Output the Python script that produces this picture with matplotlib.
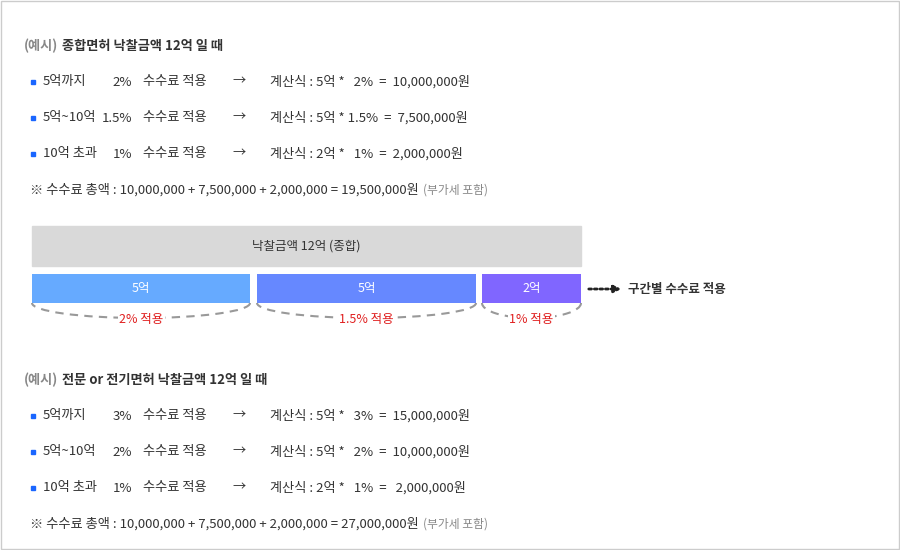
import matplotlib.pyplot as plt
from matplotlib.patches import Rectangle, Arc
import matplotlib as mpl

mpl.rcParams["font.family"] = ["Noto Sans CJK KR", "Noto Sans CJK JP", "Noto Sans CJK SC",
                               "Noto Sans CJK TC", "DejaVu Sans"]

# ---- data ----
title1 = "종합면허 낙찰금액 12억 일 때"
ranges1 = ["5억까지", "5억~10억", "10억 초과"]
rates1 = ["2%", "1.5%", "1%"]
calcs1 = ["계산식 : 5억 *   2%  =  10,000,000원",
          "계산식 : 5억 * 1.5%  =  7,500,000원",
          "계산식 : 2억 *   1%  =  2,000,000원"]
total1 = "※ 수수료 총액 : 10,000,000 + 7,500,000 + 2,000,000 = 19,500,000원"

seg_labels = ["5억", "5억", "2억"]
seg_rates = ["2% 적용", "1.5% 적용", "1% 적용"]
seg_colors = ["#66aaff", "#6688ff", "#8066ff"]

title2 = "전문 or 전기면허 낙찰금액 12억 일 때"
ranges2 = ["5억까지", "5억~10억", "10억 초과"]
rates2 = ["3%", "2%", "1%"]
calcs2 = ["계산식 : 5억 *   3%  =  15,000,000원",
          "계산식 : 5억 *   2%  =  10,000,000원",
          "계산식 : 2억 *   1%  =   2,000,000원"]
total2 = "※ 수수료 총액 : 10,000,000 + 7,500,000 + 2,000,000 = 27,000,000원"

TXT = "#333333"
GRAY = "#888888"

fig = plt.figure(figsize=(9, 5.5), dpi=100)
ax = fig.add_axes([0, 0, 1, 1])
ax.set_xlim(0, 900)
ax.set_ylim(550, 0)
ax.axis("off")
ax.add_patch(Rectangle((0.5, 0.5), 898.5, 548.5, fill=False, ec="#cccccc", lw=1))


def block(y0, title, ranges, rates, calcs, total):
    t0 = ax.text(24, y0, "(예시)", color=GRAY, fontsize=9.5, va="center", fontweight="bold")
    fig.canvas.draw()
    ax.text(t0.get_window_extent().x1 * 0 + 62, y0, title, color=TXT, fontsize=9.5,
            va="center", fontweight="bold")
    for i, (r, p, c) in enumerate(zip(ranges, rates, calcs)):
        y = y0 + 36 + i * 36
        ax.add_patch(Rectangle((31, y - 2), 4, 4, color="#1a66ff"))
        ax.text(43, y, r, color=TXT, fontsize=9.5, va="center")
        ax.text(132, y, p, color=TXT, fontsize=9.5, va="center", ha="right")
        ax.text(143, y, "수수료 적용", color=TXT, fontsize=9.5, va="center")
        ax.text(232, y, "→", color=TXT, fontsize=9.5, va="center")
        ax.text(270, y, c, color=TXT, fontsize=9.5, va="center")
    yt = y0 + 36 * 4
    t = ax.text(30, yt, total, color=TXT, fontsize=9.5, va="center")
    fig.canvas.draw()
    bb = t.get_window_extent()
    ax.text(bb.x1 + 4, yt, "(부가세 포함)", color=GRAY, fontsize=8.5, va="center")


block(46, title1, ranges1, rates1, calcs1, total1)
block(380, title2, ranges2, rates2, calcs2, total2)

# diagram
ax.add_patch(Rectangle((32, 226), 549, 40, color="#d9d9d9"))
ax.text(306, 246, "낙찰금액 12억 (종합)", color=TXT, fontsize=9, ha="center", va="center")
lefts = [32, 257, 482]
widths = [218, 219, 99]
ax.barh([288.5] * 3, widths, left=lefts, height=29, color=seg_colors)
for l, w, lab, rt in zip(lefts, widths, seg_labels, seg_rates):
    ax.text(l + w / 2, 288.5, lab, color="white", fontsize=9, ha="center", va="center")
    cx = l + w / 2
    ax.add_patch(Arc((cx, 303), w, 30, theta1=0, theta2=180, ls=(0, (4, 3)),
                     color="#999999", lw=1.5))
    ax.text(cx, 320, rt, color="#e02020", fontsize=9, ha="center", va="center",
            bbox=dict(fc="white", ec="none", pad=1))
ax.annotate("", xy=(624, 289), xytext=(586, 289),
            arrowprops=dict(arrowstyle="-|>", color="#222222", lw=2, ls=(0, (1, 1))))
ax.text(628, 289, "구간별 수수료 적용", color=TXT, fontsize=9, va="center", fontweight="bold")

fig.savefig("out.png", dpi=100)
